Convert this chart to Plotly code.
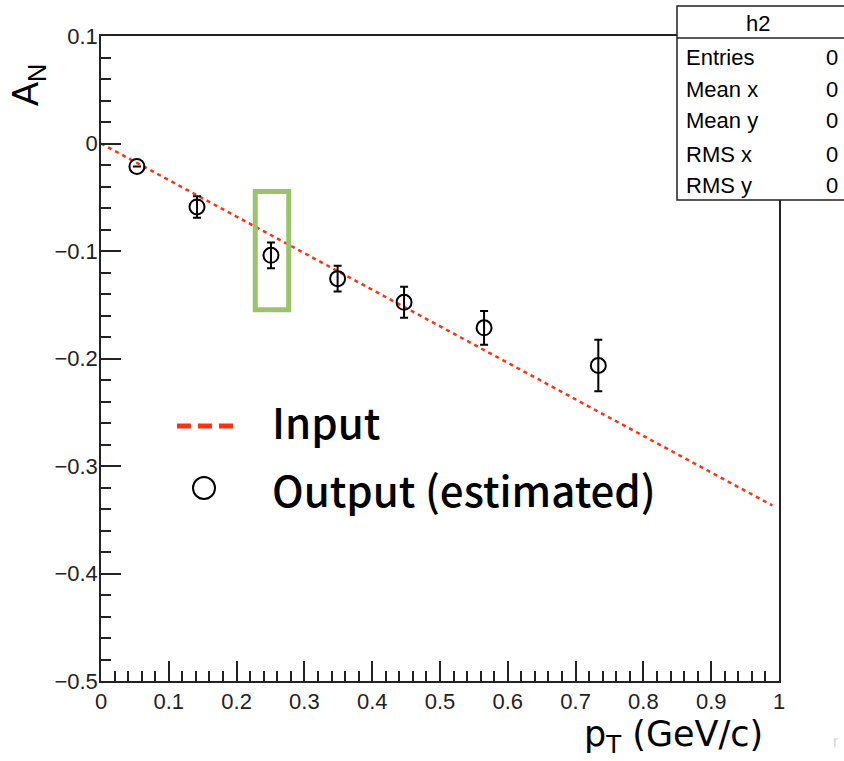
import plotly.graph_objects as go

# ---- data ----
input_x = [0.0, 0.99]
input_y = [0.0, -0.3366]

pt = [0.053, 0.1416, 0.2507, 0.349, 0.447, 0.565, 0.7335]
an = [-0.0213, -0.059, -0.104, -0.1257, -0.1477, -0.1715, -0.2065]
an_err = [None, 0.010, 0.012, 0.012, 0.0144, 0.0158, 0.024]

x_ticks = [0, 0.1, 0.2, 0.3, 0.4, 0.5, 0.6, 0.7, 0.8, 0.9, 1]
x_ticklabels = ["0", "0.1", "0.2", "0.3", "0.4", "0.5", "0.6", "0.7", "0.8", "0.9", "1"]
y_ticks = [-0.5, -0.4, -0.3, -0.2, -0.1, 0, 0.1]
y_ticklabels = ["\u22120.5", "\u22120.4", "\u22120.3", "\u22120.2", "\u22120.1", "0", "0.1"]

stats_names = ["Entries", "Mean x", "Mean y", "RMS x", "RMS y"]
stats_values = ["0", "0", "0", "0", "0"]

# highlighted point box (around 3rd point)
hl_x = [0.2275, 0.2769]
hl_y = [-0.0447, -0.1546]

RED = "#ff3010"
W, H = 844, 761
ML, MR, MT, MB = 101, 65, 36, 80
PW, PH = W - ML - MR, H - MT - MB


def px2paper(px, py):
    return (px - ML) / PW, (H - MB - py) / PH


fig = go.Figure()
fig.add_trace(go.Scatter(
    x=input_x, y=input_y, mode="lines",
    line=dict(color=RED, width=2.5, dash="4px,4px"),
    showlegend=False, hoverinfo="skip"))
fig.add_trace(go.Scatter(
    x=pt, y=an, mode="markers",
    marker=dict(symbol="circle-open", size=15, color="black", line=dict(width=2, color="black")),
    error_y=dict(type="data", array=an_err, color="black", thickness=2, width=4),
    showlegend=False))

axis_common = dict(
    showgrid=False, zeroline=False, showline=True, mirror=True,
    linecolor="#222", linewidth=1.5,
    ticks="inside", ticklen=20, tickwidth=1.5, tickcolor="#222",
    tickfont=dict(family="Liberation Sans", size=22, color="#222"),
    minor=dict(ticks="inside", ticklen=10, tickwidth=1.5, tickcolor="#222", dtick=0.02, showgrid=False),
)
fig.update_xaxes(range=[0, 1], tickvals=x_ticks, ticktext=x_ticklabels, **axis_common)
fig.update_yaxes(range=[-0.5, 0.1], tickvals=y_ticks, ticktext=y_ticklabels, ticklabelstandoff=-3, **axis_common)

shapes = []
annotations = []

# highlight rectangle
shapes.append(dict(type="rect", xref="x", yref="y", x0=hl_x[0], x1=hl_x[1], y0=hl_y[0], y1=hl_y[1],
                   line=dict(color="#9bc36b", width=5)))

# legend symbols
lx0, ly = px2paper(177, 426)
lx1, _ = px2paper(233, 426)
shapes.append(dict(type="line", xref="paper", yref="paper", x0=lx0, x1=lx1, y0=ly, y1=ly,
                   line=dict(color=RED, width=5, dash="14px,7px")))
cx0, cy0 = px2paper(193, 499)
cx1, cy1 = px2paper(215, 477)
shapes.append(dict(type="circle", xref="paper", yref="paper", x0=cx0, x1=cx1, y0=cy0, y1=cy1,
                   line=dict(color="black", width=2)))
legend_font = dict(family="Noto Sans CJK KR", size=42, color="black", weight=500)
tx, ty = px2paper(270, 421)
annotations.append(dict(xref="paper", yref="paper", x=tx, y=ty, text="Input", showarrow=False,
                        xanchor="left", yanchor="middle", font=legend_font))
tx, ty = px2paper(270, 488)
annotations.append(dict(xref="paper", yref="paper", x=tx, y=ty, text="Output (estimated)", showarrow=False,
                        xanchor="left", yanchor="middle", font=legend_font))

# stats box
bx0, by1 = px2paper(677, 6)
bx1, by0 = px2paper(860, 200)
shapes.append(dict(type="rect", xref="paper", yref="paper", x0=bx0, x1=bx1, y0=by0, y1=by1,
                   fillcolor="white", line=dict(color="#222", width=1.5), layer="above"))
hx0, hy = px2paper(677, 38)
shapes.append(dict(type="line", xref="paper", yref="paper", x0=hx0, x1=bx1, y0=hy, y1=hy,
                   line=dict(color="#222", width=1.5), layer="above"))
sx, sy = px2paper(758, 23)
annotations.append(dict(xref="paper", yref="paper", x=sx, y=sy, text="h2", showarrow=False,
                        xanchor="center", yanchor="middle",
                        font=dict(family="Liberation Sans", size=22, color="black")))
rows_py = [57, 89, 120, 154, 185]
for name, val, rpy in zip(stats_names, stats_values, rows_py):
    nx, ny = px2paper(684, rpy)
    vx, _ = px2paper(840, rpy)
    annotations.append(dict(xref="paper", yref="paper", x=nx, y=ny, text=name, showarrow=False,
                            xanchor="left", yanchor="middle",
                            font=dict(family="Liberation Sans", size=22, color="black")))
    annotations.append(dict(xref="paper", yref="paper", x=vx, y=ny, text=val, showarrow=False,
                            xanchor="right", yanchor="middle",
                            font=dict(family="Liberation Sans", size=22, color="black")))

# axis titles
ax, ay = px2paper(28, 85)
annotations.append(dict(xref="paper", yref="paper", x=ax, y=ay, text="A<sub>N</sub>", showarrow=False,
                        textangle=-90, xanchor="center", yanchor="middle",
                        font=dict(family="Liberation Sans", size=36, color="black")))
px_, py_ = px2paper(765, 737)
annotations.append(dict(xref="paper", yref="paper", x=px_, y=py_, text="p<sub>T</sub> (GeV/c)", showarrow=False,
                        xanchor="right", yanchor="middle",
                        font=dict(family="DejaVu Sans", size=35, color="black")))
# faint cut-off glyph at bottom right
fx, fy = px2paper(836, 742)
annotations.append(dict(xref="paper", yref="paper", x=fx, y=fy, text="r", showarrow=False,
                        xanchor="center", yanchor="middle",
                        font=dict(family="Liberation Sans", size=16, color="#d8d8d8")))

fig.update_layout(
    width=W, height=H, margin=dict(l=ML, r=MR, t=MT, b=MB, autoexpand=False),
    paper_bgcolor="white", plot_bgcolor="white",
    shapes=shapes, annotations=annotations, showlegend=False,
)
fig.write_html("out.html")
